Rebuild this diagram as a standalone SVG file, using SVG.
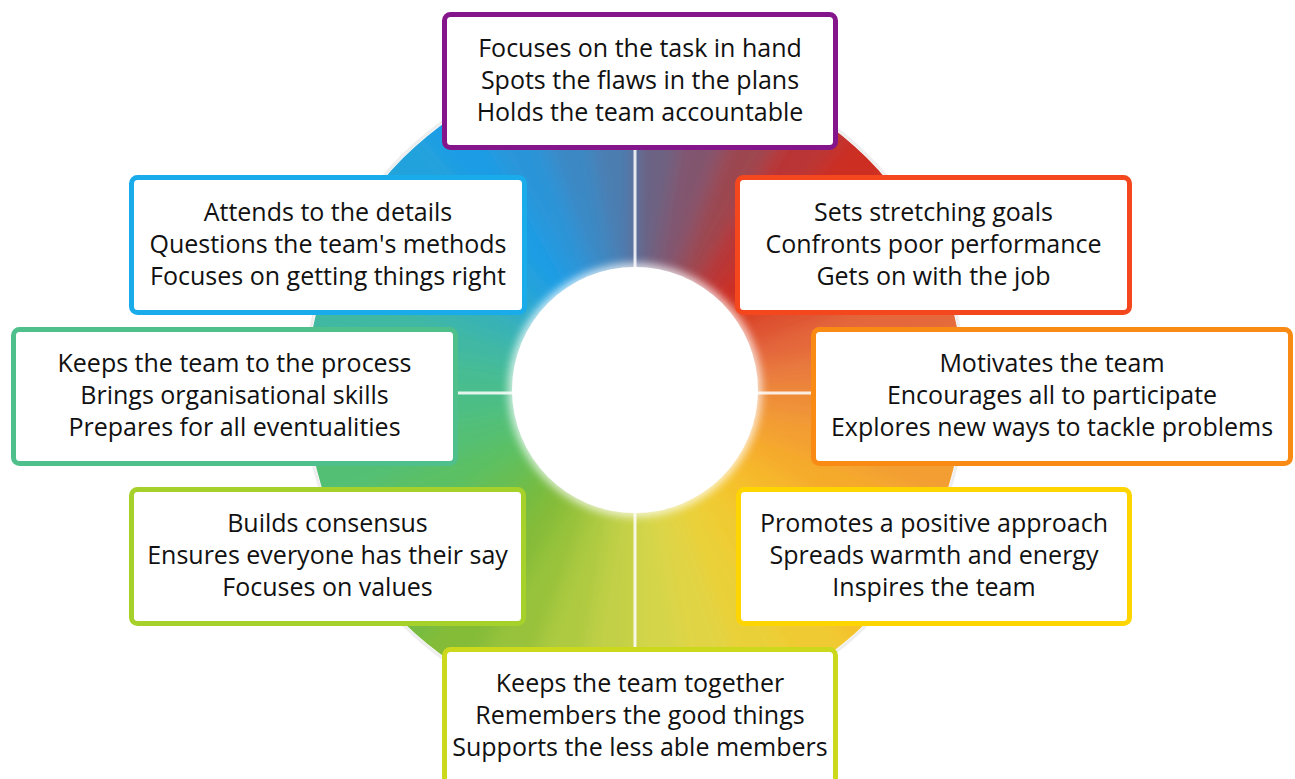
<svg xmlns="http://www.w3.org/2000/svg" width="1295" height="779" viewBox="0 0 1295 779">
  <style>
    .box { fill: #ffffff; stroke-width: 5; }
    .lbl { font-family: "Open Sans", "Noto Sans", "Liberation Sans", sans-serif; font-size: 25px; fill: #111111; text-anchor: middle; }
    .div { stroke: #ffffff; stroke-width: 3; opacity: 0.85; }
  </style>
  <defs>
    <clipPath id="ringClip"><circle cx="635" cy="390" r="328"/></clipPath>
    <filter id="soft" x="-10%" y="-10%" width="120%" height="120%"><feGaussianBlur stdDeviation="9"/></filter>
    <filter id="glow" x="-20%" y="-20%" width="140%" height="140%"><feGaussianBlur stdDeviation="4"/></filter>
  </defs>
  <rect width="1295" height="779" fill="#ffffff"/>

  <g id="ring">
    <circle cx="635" cy="390" r="330" fill="none" stroke="#e2e2e2" stroke-width="3" opacity="0.6"/>
    <g clip-path="url(#ringClip)">
      <g filter="url(#soft)">
        <g transform="translate(635 390) scale(1.1) translate(-635 -390)">
        <path d="M635,390 L635,50 L694.04,55.16 Z" fill="#6C6282"/>
        <path d="M635,390 L694.04,55.16 L751.29,70.51 Z" fill="#82546E"/>
        <path d="M635,390 L751.29,70.51 L805,95.55 Z" fill="#9C4650"/>
        <path d="M635,390 L805,95.55 L853.55,129.55 Z" fill="#BA3636"/>
        <path d="M635,390 L853.55,129.55 L895.45,171.45 Z" fill="#CC2E22"/>
        <path d="M635,390 L895.45,171.45 L929.45,220 Z" fill="#D83C22"/>
        <path d="M635,390 L929.45,220 L954.49,273.71 Z" fill="#DE5230"/>
        <path d="M635,390 L954.49,273.71 L969.84,330.96 Z" fill="#E4673A"/>
        <path d="M635,390 L969.84,330.96 L975,390 Z" fill="#EA7E3C"/>
        <path d="M635,390 L975,390 L969.84,449.04 Z" fill="#EF9038"/>
        <path d="M635,390 L969.84,449.04 L954.49,506.29 Z" fill="#F39E32"/>
        <path d="M635,390 L954.49,506.29 L929.45,560 Z" fill="#F5AA2A"/>
        <path d="M635,390 L929.45,560 L895.45,608.55 Z" fill="#F6B82A"/>
        <path d="M635,390 L895.45,608.55 L853.55,650.45 Z" fill="#F4C22C"/>
        <path d="M635,390 L853.55,650.45 L805,684.45 Z" fill="#F0CA30"/>
        <path d="M635,390 L805,684.45 L751.29,709.49 Z" fill="#EAD038"/>
        <path d="M635,390 L751.29,709.49 L694.04,724.84 Z" fill="#E0D444"/>
        <path d="M635,390 L694.04,724.84 L635,730 Z" fill="#D4D548"/>
        <path d="M635,390 L635,730 L575.96,724.84 Z" fill="#C2D046"/>
        <path d="M635,390 L575.96,724.84 L518.71,709.49 Z" fill="#AECA40"/>
        <path d="M635,390 L518.71,709.49 L465,684.45 Z" fill="#98C23A"/>
        <path d="M635,390 L465,684.45 L416.45,650.45 Z" fill="#84BC38"/>
        <path d="M635,390 L416.45,650.45 L374.55,608.55 Z" fill="#74BC40"/>
        <path d="M635,390 L374.55,608.55 L340.55,560 Z" fill="#66BE52"/>
        <path d="M635,390 L340.55,560 L315.51,506.29 Z" fill="#5AC064"/>
        <path d="M635,390 L315.51,506.29 L300.16,449.04 Z" fill="#52BF74"/>
        <path d="M635,390 L300.16,449.04 L295,390 Z" fill="#4CBE84"/>
        <path d="M635,390 L295,390 L300.16,330.96 Z" fill="#46BC92"/>
        <path d="M635,390 L300.16,330.96 L315.51,273.71 Z" fill="#40B8A2"/>
        <path d="M635,390 L315.51,273.71 L340.55,220 Z" fill="#38B2B4"/>
        <path d="M635,390 L340.55,220 L374.55,171.45 Z" fill="#2EAAC8"/>
        <path d="M635,390 L374.55,171.45 L416.45,129.55 Z" fill="#24A2DC"/>
        <path d="M635,390 L416.45,129.55 L465,95.55 Z" fill="#1F9CE4"/>
        <path d="M635,390 L465,95.55 L518.71,70.51 Z" fill="#2A94D8"/>
        <path d="M635,390 L518.71,70.51 L575.96,55.16 Z" fill="#3A88C4"/>
        <path d="M635,390 L575.96,55.16 L635,50 Z" fill="#4B7DB0"/>
        </g>
      </g>
    </g>
    <circle cx="635" cy="390" r="127" fill="#ffffff" filter="url(#glow)" opacity="0.75"/>
    <circle cx="635" cy="390" r="123" fill="#ffffff"/>
  </g>

  <g id="connectors">
    <line class="div" x1="635" y1="148" x2="635" y2="268"/>
    <line class="div" x1="635" y1="512" x2="635" y2="650"/>
    <line class="div" x1="457" y1="393" x2="513" y2="393"/>
    <line class="div" x1="757" y1="393" x2="813" y2="393"/>
  </g>

  <g id="node-shaper">
    <rect class="box" x="444.5" y="14.5" width="391" height="133" rx="6" stroke="#85158A"/>
    <text class="lbl" x="640" y="57">Focuses on the task in hand</text>
    <text class="lbl" x="640" y="89">Spots the flaws in the plans</text>
    <text class="lbl" x="640" y="121">Holds the team accountable</text>
  </g>

  <g id="node-details">
    <rect class="box" x="131.5" y="177.5" width="393" height="135" rx="6" stroke="#1AABEB"/>
    <text class="lbl" x="328" y="221">Attends to the details</text>
    <text class="lbl" x="328" y="253">Questions the team's methods</text>
    <text class="lbl" x="328" y="285">Focuses on getting things right</text>
  </g>

  <g id="node-goals">
    <rect class="box" x="737.5" y="177.5" width="392" height="135" rx="6" stroke="#F4471E"/>
    <text class="lbl" x="933.5" y="221">Sets stretching goals</text>
    <text class="lbl" x="933.5" y="253">Confronts poor performance</text>
    <text class="lbl" x="933.5" y="285">Gets on with the job</text>
  </g>

  <g id="node-process">
    <rect class="box" x="13.5" y="329.5" width="442" height="134" rx="6" stroke="#4FBF8B"/>
    <text class="lbl" x="234.5" y="372">Keeps the team to the process</text>
    <text class="lbl" x="234.5" y="404">Brings organisational skills</text>
    <text class="lbl" x="234.5" y="436">Prepares for all eventualities</text>
  </g>

  <g id="node-motivates">
    <rect class="box" x="813.5" y="329.5" width="477" height="134" rx="6" stroke="#F98B14"/>
    <text class="lbl" x="1052" y="372">Motivates the team</text>
    <text class="lbl" x="1052" y="404">Encourages all to participate</text>
    <text class="lbl" x="1052" y="436">Explores new ways to tackle problems</text>
  </g>

  <g id="node-consensus">
    <rect class="box" x="131.5" y="489.5" width="392" height="134" rx="6" stroke="#A6D02A"/>
    <text class="lbl" x="327.5" y="532">Builds consensus</text>
    <text class="lbl" x="327.5" y="564">Ensures everyone has their say</text>
    <text class="lbl" x="327.5" y="596">Focuses on values</text>
  </g>

  <g id="node-positive">
    <rect class="box" x="738.5" y="489.5" width="391" height="134" rx="6" stroke="#FFD500"/>
    <text class="lbl" x="934" y="532">Promotes a positive approach</text>
    <text class="lbl" x="934" y="564">Spreads warmth and energy</text>
    <text class="lbl" x="934" y="596">Inspires the team</text>
  </g>

  <g id="node-together">
    <rect class="box" x="444.5" y="649.5" width="391" height="160" rx="6" stroke="#CBD81C"/>
    <text class="lbl" x="640" y="692">Keeps the team together</text>
    <text class="lbl" x="640" y="724">Remembers the good things</text>
    <text class="lbl" x="640" y="756">Supports the less able members</text>
  </g>
</svg>
